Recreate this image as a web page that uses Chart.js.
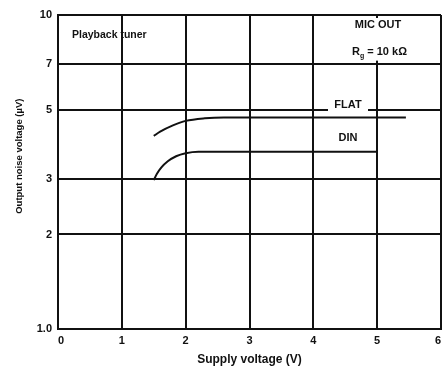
<!DOCTYPE html>
<html>
<head>
<meta charset="utf-8">
<script src="https://cdn.jsdelivr.net/npm/chart.js@4"></script>
<style>
  html, body { margin: 0; padding: 0; background: #fff; }
  #wrap { width: 443px; height: 372px; }
</style>
</head>
<body>
<div id="wrap"><canvas id="chart"></canvas></div>
<script>
// supply voltage (V) / output noise (uV)
const flatX = [1.5, 1.6, 1.8, 2.0, 2.3, 2.6, 5.45];
const flatY = [4.12, 4.25, 4.45, 4.6, 4.69, 4.72, 4.72];
const dinX = [1.5, 1.55, 1.62, 1.72, 1.85, 2.0, 2.2, 5.0];
const dinY = [2.98, 3.12, 3.27, 3.42, 3.55, 3.63, 3.67, 3.67];
const xTicks = [0, 1, 2, 3, 4, 5, 6];
const yTicks = [1, 2, 3, 5, 7, 10];

const ink = '#111';
const fontFam = '"Liberation Sans", Arial, sans-serif';

function pts(xs, ys) {
    return xs.map((x, i) => ({ x: x, y: ys[i] }));
}

// labels drawn inside the plot, with white patches where the scan has breaks
const notes = {
    id: 'notes',
    afterDatasetsDraw(chart) {
        const c = chart.ctx;
        const xs = chart.scales.x, ys = chart.scales.y;
        c.save();
        c.fillStyle = '#fff';
        // gap in the 5 uV line for FLAT label
        c.fillRect(328, ys.getPixelForValue(5) - 6, 40, 10);
        // x=5 grid line stops under the MIC OUT box
        const x5 = xs.getPixelForValue(5);
        const top = ys.getPixelForValue(10), y7 = ys.getPixelForValue(7);
        c.fillRect(x5 - 3, top + 3, 6, y7 - top - 6);

        c.fillStyle = ink;
        c.textBaseline = 'middle';
        c.font = 'bold 10.5px ' + fontFam;
        c.textAlign = 'left';
        c.fillText('Playback tuner', 72, 35);
        c.font = 'bold 11px ' + fontFam;
        c.textAlign = 'center';
        c.fillText('MIC OUT', 378, 25);
        c.fillText('FLAT', 348, 105);
        c.fillText('DIN', 348, 138);
        // R_g = 10 kΩ with subscript
        c.textAlign = 'left';
        const rx = 352;
        c.fillText('R', rx, 52);
        const rw = c.measureText('R').width;
        c.font = 'bold 7px ' + fontFam;
        c.fillText('g', rx + rw, 56);
        const gw = c.measureText('g').width;
        c.font = 'bold 11px ' + fontFam;
        c.fillText(' = 10 k\u03A9', rx + rw + gw, 52);
        c.restore();
    }
};

const ctx = document.getElementById('chart').getContext('2d');
new Chart(ctx, {
    type: 'line',
    data: {
        datasets: [{
            label: 'FLAT',
            data: pts(flatX, flatY),
            borderColor: ink,
            borderWidth: 2,
            pointRadius: 0,
            cubicInterpolationMode: 'monotone',
            fill: false
        }, {
            label: 'DIN',
            data: pts(dinX, dinY),
            borderColor: ink,
            borderWidth: 2,
            pointRadius: 0,
            cubicInterpolationMode: 'monotone',
            fill: false
        }]
    },
    options: {
        responsive: true,
        maintainAspectRatio: false,
        animation: false,
        layout: { padding: { top: 15, right: 2, left: 0, bottom: 0 } },
        plugins: {
            legend: { display: false },
            tooltip: { enabled: false }
        },
        scales: {
            x: {
                type: 'linear',
                min: 0,
                max: 6,
                afterBuildTicks: function(scale) {
                    scale.ticks = xTicks.map(v => ({ value: v }));
                },
                afterFit: function(scale) {
                    scale.height = 43;
                    scale.paddingRight = 0;
                },
                grid: { color: ink, lineWidth: 2, drawTicks: false },
                border: { color: ink, width: 2 },
                ticks: {
                    color: ink,
                    padding: 5,
                    align: 'inner',
                    maxRotation: 0,
                    font: { family: fontFam, size: 11, weight: 'bold' }
                },
                title: {
                    display: true,
                    text: 'Supply voltage (V)',
                    color: ink,
                    padding: { top: 0, bottom: 5 },
                    font: { family: fontFam, size: 12, weight: 'bold' }
                }
            },
            y: {
                type: 'logarithmic',
                min: 1,
                max: 10,
                afterBuildTicks: function(scale) {
                    scale.ticks = yTicks.map(v => ({ value: v }));
                },
                afterFit: function(scale) { scale.width = 58; },
                grid: { color: ink, lineWidth: 2, drawTicks: false },
                border: { color: ink, width: 2 },
                ticks: {
                    color: ink,
                    padding: 6,
                    font: { family: fontFam, size: 11, weight: 'bold' },
                    callback: function(v) { return v === 1 ? '1.0' : String(v); }
                },
                title: {
                    display: true,
                    // leading spaces lift the title a little, as in the scan
                    text: '            Output noise voltage (\u00B5V)',
                    color: ink,
                    padding: { top: 14, bottom: 0 },
                    font: { family: fontFam, size: 9.5, weight: 'bold' }
                }
            }
        }
    },
    plugins: [notes]
});
</script>
</body>
</html>
